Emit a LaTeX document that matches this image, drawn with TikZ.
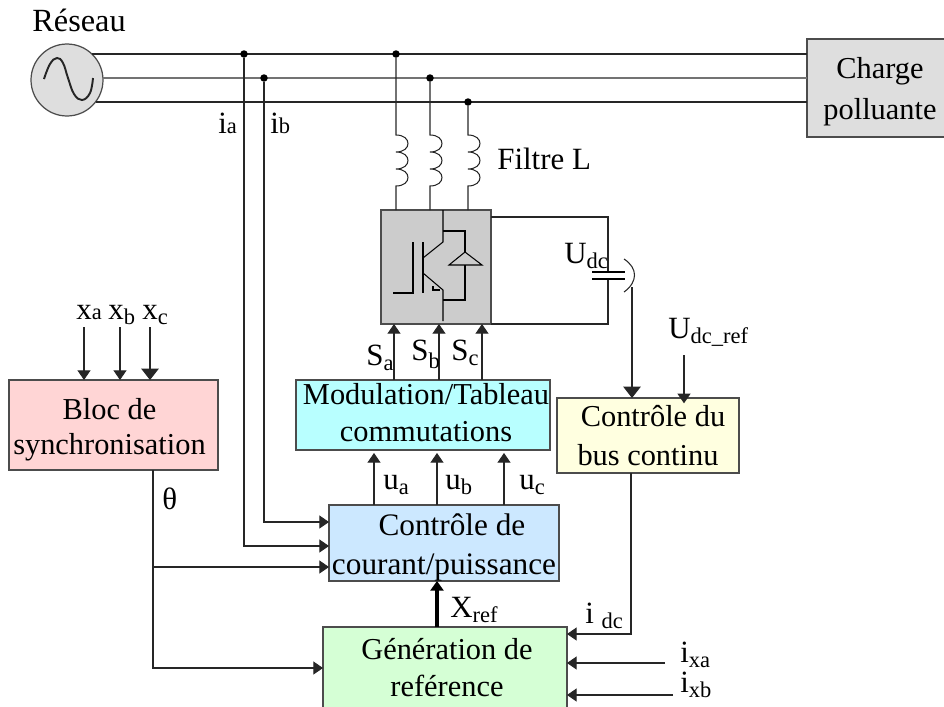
\documentclass[tikz,border=0pt]{standalone}
\usepackage{fontspec}
\setmainfont{Liberation Serif}
\usetikzlibrary{arrows.meta}
\definecolor{blocRed}{RGB}{255,213,213}
\definecolor{modCyan}{RGB}{184,255,255}
\definecolor{busYellow}{RGB}{255,255,224}
\definecolor{courBlue}{RGB}{204,232,255}
\definecolor{genGreen}{RGB}{213,255,213}
\tikzset{
	wire/.style={line width=0.6pt,draw=black!85},
	fedwire/.style={wire,-{Triangle[length=5.5pt,width=7.4pt]}},
	bigwire/.style={wire,-{Triangle[length=6.5pt,width=10pt]}},
	block/.style={draw=black!70,line width=0.7pt,inner sep=0pt,outer sep=0pt,align=center,font=\fontsize{17.3}{21}\selectfont},
	lbl/.style={anchor=base west,inner sep=0pt,font=\fontsize{17.6}{21}\selectfont},
	dot/.style={circle,fill=black,inner sep=0pt,minimum size=0.15cm},
}
\begin{document}
\begin{tikzpicture}[x=0.02cm,y=-0.02cm]
			\newcommand{\mysub}[2][3pt]{\raisebox{-#1}{\fontsize{12.8}{13}\selectfont #2}}
			\useasboundingbox (0,0) rectangle (944,707);
			\clip (0,0) rectangle (944,707);
			%Grid and load
			\node [circle,draw=black!70,fill=black!13,line width=0.7pt,minimum size=1.44cm,inner sep=0pt,outer sep=0pt] (src) at (67,80) {};
			\node [block,fill=black!13,minimum width=2.92cm,minimum height=1.96cm] (load) at (880,88) {\rule{0pt}{16.6pt}Charge\\[2.4pt]polluante};
			\draw [line width=1.1pt,draw=black!85] plot [smooth,tension=0.7] coordinates {(44,79) (50,64) (57,58) (63,63) (68,78) (74,94) (82,100) (90,93) (93,78)};
			\coordinate (gridA) at (92,54);
			\coordinate (gridB) at (103,78);
			\coordinate (gridC) at (96,102);
			\draw [wire] (gridA) -- (gridA -| load.west);
			\draw [wire,line width=1pt,draw=black!55] (gridB) -- (gridB -| load.west);
			\draw [wire] (gridC) -- (gridC -| load.west);
			%Dots on the three phases
			\node [dot] (tapA) at (244,54) {};
			\node [dot] (tapB) at (264,78) {};
			\node [dot] (filtA) at (396,54) {};
			\node [dot] (filtB) at (430,78) {};
			\node [dot] (filtC) at (468,102) {};
			%Blocks
			\node [block,fill=blocRed,minimum width=4.18cm,minimum height=1.8cm] (bloc) at (113.5,425) {\rule{0pt}{17.6pt}Bloc de\hspace*{0.16cm}\\[-1pt]synchronisation\hspace*{0.16cm}};
			\node [block,fill=modCyan,minimum width=5.08cm,minimum height=1.4cm] (mod) at (423,415) {\hspace*{0.12cm}Modulation/Tableau\\\hspace*{0.12cm}commutations\rule[-3.4pt]{0pt}{0pt}};
			\node [block,fill=busYellow,minimum width=3.64cm,minimum height=1.5cm] (bus) at (648,435.5) {\hspace*{0.2cm}Contrôle du\\[1.5pt]bus continu};
			\node [block,fill=courBlue,minimum width=4.6cm,minimum height=1.52cm,font=\fontsize{17.8}{21}\selectfont] (cour) at (444,543) {\rule{0pt}{17pt}\hspace*{0.32cm}Contrôle de\\[1.1pt]courant/puissance};
			\node [block,fill=genGreen,minimum width=4.88cm,minimum height=1.64cm] (gen) at (445,668) {\hspace*{0.08cm}Génération de\\\hspace*{0.08cm}reférence};
			\node [block,fill=black!20,minimum width=2.2cm,minimum height=2.28cm] (inv) at (436,267) {};
			%Filter coils
			\foreach \name/\cx in {filtA/396,filtB/430,filtC/468} {
				\draw [wire] (\name) -- (\cx,135)
					.. controls (\cx+16,135) and (\cx+16,152) .. (\cx,152)
					.. controls (\cx+16,152) and (\cx+16,169) .. (\cx,169)
					.. controls (\cx+16,169) and (\cx+16,186) .. (\cx,186)
					-- (\cx,210);
			}
			%The switch inside the converter
			\draw [wire,draw=black] (443,210) -- (443,242) -- (423,258);
			\draw [wire,draw=black] (423,242) -- (423,293);
			\draw [wire,draw=black] (413,242) -- (413,293) -- (393,293);
			\draw [wire,draw=black] (423,273) -- (443,290) -- (443,321);
			\draw [wire,draw=black] (433,286) -- (433,290) -- (440,290);
			\draw [wire,draw=black] (443,231) -- (465,231) -- (465,252);
			\draw [wire,draw=black] (449,265) -- (465,252) -- (482,265) -- cycle;
			\draw [wire,draw=black] (465,265) -- (465,300) -- (443,300);
			%DC link
			\coordinate (dcTop) at (491,217);
			\coordinate (dcBot) at (491,324);
			\coordinate (capUp) at (608,272);
			\coordinate (capDn) at (608,279);
			\draw [wire] (dcTop) -- (608,217) -- (capUp);
			\draw [wire] (dcBot) -- (608,324) -- (capDn);
			\draw [wire,draw=black] (592,272) -- (625,272);
			\draw [wire,draw=black] (592,279) -- (625,279);
			\draw [wire] (624,259) .. controls (638,268) and (638,282) .. (624,292);
			\coordinate (probe) at (632,287);
			\draw [bigwire] (probe) -- (probe |- bus.north);
			\coordinate (udcRef) at (684,355);
			\draw [fedwire] (udcRef) -- ([yshift=-3pt]udcRef |- bus.north);
			%Currents to the control block
			\draw [fedwire] (tapA) |- (cour.west |- 0,546);
			\draw [fedwire] (tapB) |- (cour.west |- 0,522);
			%Switching orders and voltages
			\foreach \cx in {394,439,482} {
				\coordinate (sw\cx) at (\cx,380);
				\draw [fedwire] (sw\cx) -- (sw\cx |- inv.south);
			}
			\foreach \cx in {374,437,504} {
				\coordinate (ctl\cx) at (\cx,505);
				\draw [fedwire,shorten >=1.7pt] (ctl\cx) -- (ctl\cx |- mod.south);
			}
			\draw [line width=2pt,-{Triangle[length=5.5pt,width=7.4pt]}] (437,627) -- (437,581);
			%Synchronisation
			\coordinate (xaIn) at (84,327);
			\coordinate (xbIn) at (120,327);
			\coordinate (xcIn) at (150,327);
			\draw [fedwire] (xaIn) -- (xaIn |- bloc.north);
			\draw [fedwire] (xbIn) -- (xbIn |- bloc.north);
			\draw [bigwire] (xcIn) -- (xcIn |- bloc.north);
			\coordinate (thetaOut) at (153,470);
			\draw [fedwire] (thetaOut) |- (gen.west |- 0,668);
			\coordinate (thetaTap) at (153,567);
			\draw [fedwire] (thetaTap) -- (thetaTap -| cour.west);
			%Currents to the reference block
			\coordinate (idcOut) at (631,473);
			\coordinate (ixaIn) at (665,663);
			\coordinate (ixbIn) at (673,695);
			\draw [fedwire] (idcOut) |- (gen.east |- 0,634);
			\draw [fedwire] (ixaIn) -- (ixaIn -| gen.east);
			\draw [fedwire] (ixbIn) -- (ixbIn -| gen.east);
			%The labels
			\node [lbl,font=\fontsize{18.4}{21}\selectfont] (reseau) at (32,31) {Réseau};
			\node [lbl] (ia) at (218,133) {i\mysub[0pt]{a}};
			\node [lbl] (ib) at (270,133) {i\mysub[0pt]{b}};
			\node [lbl] (filtre) at (497,169) {Filtre L};
			\node [lbl] (udc) at (564,263) {U\mysub{dc}};
			\node [lbl] (udcref) at (668,338) {U\mysub{dc\_ref}};
			\node [lbl] (sa) at (366,365) {S\mysub{a}};
			\node [lbl] (sb) at (411,360) {S\mysub[5pt]{b}};
			\node [lbl] (sc) at (451,360) {S\mysub{c}};
			\node [lbl] (ua) at (383,489) {u\mysub{a}};
			\node [lbl] (ub) at (445,489) {u\mysub{b}};
			\node [lbl] (uc) at (519,489) {u\mysub{c}};
			\node [lbl] (xref) at (450,617) {X\mysub{ref}};
			\node [lbl] (idc) at (585,623) {i \mysub{dc}};
			\node [lbl] (ixa) at (680,662) {i\mysub{xa}};
			\node [lbl] (ixb) at (680,692) {i\mysub{xb}};
			\node [lbl] (xa) at (76,319) {x\mysub[0pt]{a}};
			\node [lbl] (xb) at (108,319) {x\mysub{b}};
			\node [lbl] (xc) at (142,319) {x\mysub{c}};
			\node [lbl] (theta) at (162,509) {θ};
			\end{tikzpicture}
\end{document}
